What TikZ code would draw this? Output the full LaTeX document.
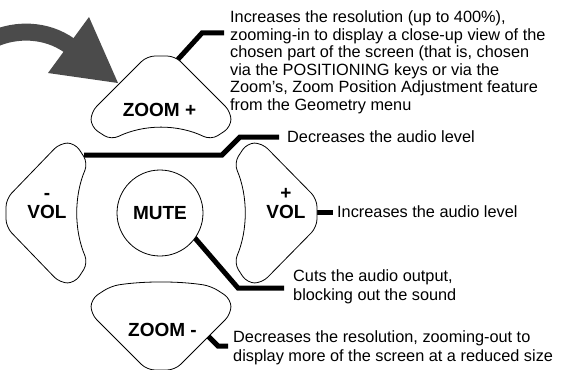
\documentclass[tikz,border=0pt]{standalone}
\usepackage{fontspec}
\setmainfont{Liberation Sans}
\definecolor{arrowgray}{RGB}{75,75,75}
\newcommand\dpadpiece[3]{%
  \begin{scope}[shift={(161,213)},rotate=#1]
    \draw[btn] (-14,-#3) -- (14,-#3) -- (70,-101) -- (70,-86) -- (50,-73)
      .. controls (17,-#2) and (-17,-#2) .. (-50,-73) -- (-70,-86) -- (-70,-101) -- cycle;
  \end{scope}}
\begin{document}
\begin{tikzpicture}[x=1pt,y=-1pt,
  btn/.style={draw=black, line width=0.8pt, fill=white, rounded corners=8pt},
  conn/.style={line width=5pt, line join=miter},
  desc/.style={font=\fontsize{16.3}{17.6}\selectfont, align=left, anchor=base west, inner sep=0pt},
  desctwo/.style={desc, font=\fontsize{16.3}{18.6}\selectfont},
  btntext/.style={font=\bfseries\fontsize{19}{21}\selectfont, inner sep=0pt},
]
\useasboundingbox (0,0) rectangle (561,369);
% big curved arrow
\draw[arrowgray, line width=17pt] (-4,38) .. controls (15,30) and (45,28) .. (70,46);
\fill[arrowgray] (48,73) -- (89,17) -- (118,83) -- cycle;
% connector points
\coordinate (zpIn) at (171,67);
\coordinate (zpBend) at (202,33);
\coordinate (zpEnd) at (224,33);
\coordinate (vmIn) at (84,155);
\coordinate (vmBendA) at (222,155);
\coordinate (vmBendB) at (240,137);
\coordinate (vmEnd) at (279,137);
\coordinate (vpIn) at (310,212);
\coordinate (vpEnd) at (333,212);
\coordinate (muIn) at (188,230);
\coordinate (muBend) at (238,288);
\coordinate (muEnd) at (284,288);
\coordinate (zmIn) at (201,329);
\coordinate (zmBend) at (218,346);
\coordinate (zmEnd) at (228,346);
\draw[conn] (zpIn) -- (zpBend) -- (zpEnd);
\draw[conn] (vmIn) -- (vmBendA) -- (vmBendB) -- (vmEnd);
\draw[conn] (vpIn) -- (vpEnd);
\draw[conn] (muIn) -- (muBend) -- (muEnd);
\draw[conn] (zmIn) -- (zmBend) -- (zmEnd);
% buttons
\dpadpiece{0}{89}{157}
\dpadpiece{90}{87}{155}
\dpadpiece{-90}{87}{156}
\dpadpiece{180}{68}{157}
\node[draw, circle, line width=0.8pt, fill=white, minimum size=86pt, inner sep=0pt,
  font=\bfseries\fontsize{19}{21}\selectfont] (mute) at (160,213) {MUTE};
\node[btntext] (zptext) at (159.5,110) {ZOOM +};
\node[btntext] (zmtext) at (162.5,330) {ZOOM -};
\node[btntext, anchor=base] (vmsign) at (47,199) {-};
\node[btntext] (vmtext) at (47,212) {VOL};
\node[btntext, anchor=base] (vpsign) at (286,199.5) {+};
\node[btntext] (vptext) at (286,212) {VOL};
% descriptions (base anchor = baseline of the last line)
\node[desc] (d1) at (230,110.5) {Increases the resolution (up to 400\%),\\zooming-in to display a close-up view of the\\chosen part of the screen (that is, chosen\\via the POSITIONING keys or via the\\Zoom's, Zoom Position Adjustment feature\\from the Geometry menu};
\node[desc] (d2) at (287,142) {Decreases the audio level};
\node[desc] (d3) at (337,217) {Increases the audio level};
\node[desctwo] (d4) at (293,300.5) {Cuts the audio output,\\blocking out the sound};
\node[desctwo] (d5) at (233,361) {Decreases the resolution, zooming-out to\\display more of the screen at a reduced size};
\end{tikzpicture}
\end{document}
